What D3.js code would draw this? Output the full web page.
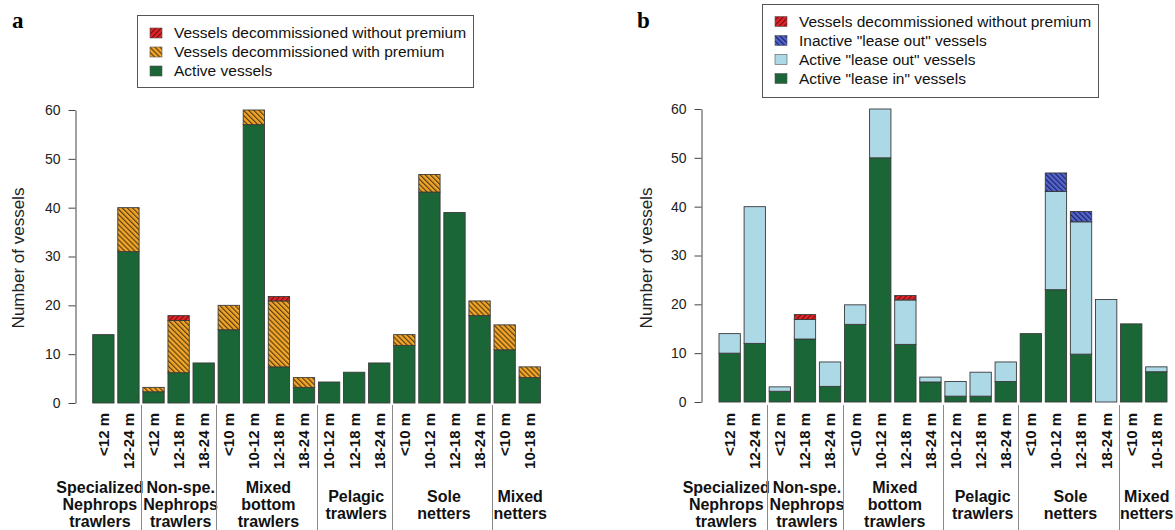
<!DOCTYPE html>
<html>
<head>
<meta charset="utf-8">
<script src="https://cdn.jsdelivr.net/npm/d3@7"></script>
<style>
  body { margin: 0; background: #fff; }
  svg { display: block; font-family: "Liberation Sans", Arial, sans-serif; }
</style>
</head>
<body>
<svg id="chart" width="1175" height="530"></svg>
<script>
// length classes, one per bar (same order in both panels)
var sizeLabels = ["<12 m", "12-24 m", "<12 m", "12-18 m", "18-24 m", "<10 m", "10-12 m", "12-18 m", "18-24 m",
                  "10-12 m", "12-18 m", "18-24 m", "<10 m", "10-12 m", "12-18 m", "18-24 m", "<10 m", "10-18 m"];
var groupNames = [["Specialized", "Nephrops", "trawlers"], ["Non-spe.", "Nephrops", "trawlers"],
                  ["Mixed", "bottom", "trawlers"], ["Pelagic", "trawlers"], ["Sole", "netters"], ["Mixed", "netters"]];
var groupSizes = [2, 3, 4, 3, 4, 2];
var yTicks = [0, 10, 20, 30, 40, 50, 60];

// panel a
var activeA    = [14, 31, 2.3, 6.2, 8.2, 15, 57, 7.4, 3.2, 4.3, 6.3, 8.2, 11.8, 43.2, 39, 17.9, 10.9, 5.2];
var premiumA   = [0, 9, 0.9, 10.7, 0, 5, 3, 13.5, 2, 0, 0, 0, 2.2, 3.6, 0, 3, 5.1, 2.2];
var noPremiumA = [0, 0, 0, 1, 0, 0, 0, 0.9, 0, 0, 0, 0, 0, 0, 0, 0, 0, 0];

// panel b
var leaseInB     = [10, 12, 2.2, 12.9, 3.2, 15.9, 50, 11.8, 4.1, 1.2, 1.2, 4.2, 14, 23, 9.8, 0, 16, 6.2];
var leaseOutB    = [4, 28, 0.9, 4, 5, 4, 10, 9.1, 1, 3, 4.9, 4, 0, 20.1, 27.1, 21, 0, 1];
var inactiveOutB = [0, 0, 0, 0, 0, 0, 0, 0, 0, 0, 0, 0, 0, 3.8, 2.1, 0, 0, 0];
var noPremiumB   = [0, 0, 0, 1, 0, 0, 0, 0.9, 0, 0, 0, 0, 0, 0, 0, 0, 0, 0];

var svg = d3.select("#chart");
var defs = svg.append("defs");

function hatch(id, bg, fg, angle) {
    var s = 3.6;
    var p = defs.append("pattern")
        .attr("id", id)
        .attr("patternUnits", "userSpaceOnUse")
        .attr("width", s).attr("height", s)
        .attr("patternTransform", "rotate(" + angle + ")");
    p.append("rect").attr("width", s).attr("height", s).attr("fill", bg);
    p.append("line").attr("x1", 0.6).attr("x2", 0.6).attr("y1", 0).attr("y2", s)
        .attr("stroke", fg).attr("stroke-width", 1.2);
}
hatch("hRed", "#e3262b", "#7a0d10", 45);
hatch("hOrange", "#f2a72a", "#5c3d0c", -45);
hatch("hBlue", "#5566c8", "#1b2370", -45);

var GREEN = "#1b6636";
var LIGHT = "#add8e6";

// group names are not all centred under their bars in the original
var groupShift = [-16, 2, 2, 2, 2, 3];

function drawPanel(p) {
    var g = svg.append("g");
    var n = sizeLabels.length;

    var x = d3.scaleBand().domain(d3.range(n)).range([p.x0, p.x1]).paddingInner(0.15).paddingOuter(0);
    var y = d3.scaleLinear().domain([0, 60]).range([p.yBottom, p.yTop]);

    var rows = d3.range(n).map(function(i) {
        var r = {i: i};
        p.series.forEach(function(s) { r[s.key] = s.values[i]; });
        return r;
    });
    var stack = d3.stack().keys(p.series.map(function(s) { return s.key; }))(rows);

    stack.forEach(function(layer, k) {
        var s = p.series[k];
        g.append("g").selectAll("rect")
            .data(layer.filter(function(d) { return d[1] - d[0] > 0; }))
            .enter().append("rect")
            .attr("x", function(d) { return x(d.data.i); })
            .attr("width", x.bandwidth())
            .attr("y", function(d) { return y(d[1]); })
            .attr("height", function(d) { return y(d[0]) - y(d[1]); })
            .attr("fill", s.fill)
            .attr("stroke", "#3a3a3a")
            .attr("stroke-width", 0.9);
    });

    // y axis
    var axis = d3.axisLeft(y).tickValues(yTicks).tickSize(7).tickSizeOuter(0).tickPadding(p.pad);
    var ax = g.append("g").attr("transform", "translate(" + p.axisX + ",0)").call(axis);
    ax.select(".domain").attr("stroke", "#444");
    ax.selectAll(".tick line").attr("stroke", "#444");
    ax.selectAll("text").attr("font-size", 14).attr("fill", "#222")
        .attr("font-family", "Liberation Sans, Arial, sans-serif");

    g.append("text")
        .attr("transform", "translate(" + p.titleX + "," + 258 + ") rotate(-90)")
        .attr("text-anchor", "middle")
        .attr("font-size", 17).attr("fill", "#222")
        .text("Number of vessels");

    // bar labels
    g.append("g").selectAll("text")
        .data(sizeLabels).enter().append("text")
        .attr("transform", function(d, i) {
            return "translate(" + (x(i) + x.bandwidth() / 2) + ",413) rotate(-90)";
        })
        .attr("text-anchor", "end")
        .attr("dy", "0.36em")
        .attr("font-size", 15).attr("font-weight", "bold").attr("fill", "#111")
        .text(function(d) { return d; });

    // group separators and names
    var start = 0;
    groupSizes.forEach(function(sz, gi) {
        var first = start, last = start + sz - 1;
        if (gi > 0) {
            var sx = Math.round((x(first - 1) + x.bandwidth() + x(first)) / 2) + 0.5;
            g.append("line").attr("x1", sx).attr("x2", sx).attr("y1", 405).attr("y2", 530)
                .attr("stroke", "#8a8a8a").attr("stroke-width", 1);
        }
        var cx = (x(first) + x(last) + x.bandwidth()) / 2 + groupShift[gi];
        var lines = groupNames[gi];
        var y0 = lines.length === 3 ? 493 : 501.5;
        var t = g.append("text").attr("text-anchor", "middle")
            .attr("font-size", 16).attr("font-weight", "bold").attr("fill", "#111");
        lines.forEach(function(l, li) {
            t.append("tspan").attr("x", cx).attr("y", y0 + li * 17).text(l);
        });
        start += sz;
    });

    // legend
    var lg = g.append("g");
    lg.append("rect")
        .attr("x", p.legend.x + 0.5).attr("y", p.legend.y + 0.5)
        .attr("width", p.legend.w).attr("height", p.legend.h)
        .attr("fill", "#fff").attr("stroke", "#555");
    p.series.slice().reverse().forEach(function(s, k) {
        var by = p.legend.first + k * 19;
        lg.append("rect")
            .attr("x", p.legend.x + 13).attr("y", by - 10)
            .attr("width", 12).attr("height", 10)
            .attr("fill", s.fill).attr("stroke", "#555").attr("stroke-width", 0.6);
        lg.append("text")
            .attr("x", p.legend.x + 37).attr("y", by)
            .attr("font-size", 15.5).attr("fill", "#111")
            .text(s.label);
    });

    svg.append("text")
        .attr("x", p.tag.x).attr("y", p.tag.y)
        .attr("font-family", "Liberation Serif, Times New Roman, serif")
        .attr("font-weight", "bold").attr("font-size", 23)
        .text(p.tag.text);
}

drawPanel({
    x0: 92.7, x1: 540.4, yBottom: 403, yTop: 110,
    axisX: 75.5, pad: 8, titleX: 24,
    series: [
        {key: "active", values: activeA, fill: GREEN, label: "Active vessels"},
        {key: "premium", values: premiumA, fill: "url(#hOrange)", label: "Vessels decommissioned with premium"},
        {key: "nopremium", values: noPremiumA, fill: "url(#hRed)", label: "Vessels decommissioned without premium"}
    ],
    legend: {x: 137, y: 15, w: 336, h: 72, first: 38},
    tag: {x: 12, y: 28, text: "a"}
});

drawPanel({
    x0: 719, x1: 1167, yBottom: 402, yTop: 109,
    axisX: 701.5, pad: 8, titleX: 652,
    series: [
        {key: "leasein", values: leaseInB, fill: GREEN, label: "Active \"lease in\" vessels"},
        {key: "leaseout", values: leaseOutB, fill: LIGHT, label: "Active \"lease out\" vessels"},
        {key: "inactive", values: inactiveOutB, fill: "url(#hBlue)", label: "Inactive \"lease out\" vessels"},
        {key: "nopremium", values: noPremiumB, fill: "url(#hRed)", label: "Vessels decommissioned without premium"}
    ],
    legend: {x: 762, y: 4, w: 336, h: 93, first: 26.5},
    tag: {x: 637, y: 28, text: "b"}
});
</script>
</body>
</html>
